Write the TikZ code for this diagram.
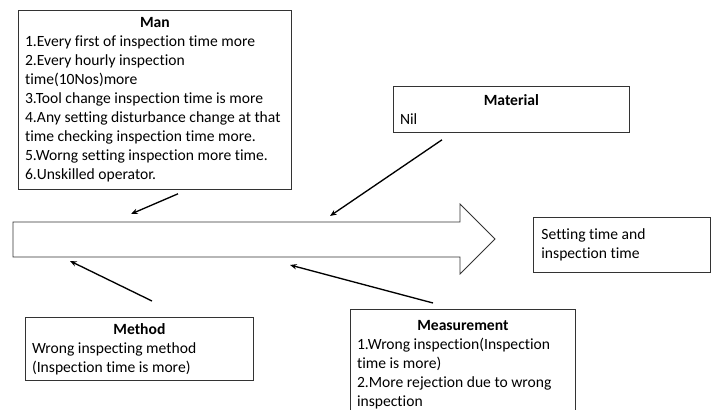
\documentclass[tikz,border=0pt]{standalone}
\usepackage{fontspec}
\setmainfont{Carlito}[Ligatures=NoCommon]
\usepackage{tikz}
\usetikzlibrary{arrows.meta}

\newcommand\boxhead[1]{\hbox to\hsize{\hfil\textbf{#1}\hfil}}

\tikzset{
	causebox/.style={draw=black!80,line width=0.6pt,rectangle,anchor=north west,
		align=flush left,inner xsep=5pt,inner ysep=0pt,
		font=\fontsize{11.7}{14.2}\selectfont},
	feed/.style={line width=1pt,-{Stealth[length=5pt,width=4pt]}}
}

\begin{document}
\begin{tikzpicture}[x=0.75pt,y=-0.75pt]
	\clip (0,0) rectangle (714,410);
	\fill[white] (0,0) rectangle (714,410);
\node[causebox,minimum width=273*0.75pt,minimum height=179*0.75pt,text width=273*0.75pt-10pt] (man) at (18,10) {\boxhead{Man}
1.Every first of inspection time more\\
2.Every hourly inspection\\
time(10Nos)more\\
3.Tool change inspection time is more\\
4.Any setting disturbance change at that\\
time checking inspection time more.\\
5.Worng setting inspection more time.\\
6.Unskilled operator.};
\node[causebox,minimum width=236*0.75pt,minimum height=46*0.75pt,text width=236*0.75pt-10pt] (material) at (393,86) {\boxhead{Material}
Nil};
\node[causebox,minimum width=228*0.75pt,minimum height=63*0.75pt,text width=228*0.75pt-10pt] (method) at (25,317) {\boxhead{Method}
Wrong inspecting method\\
(Inspection time is more)};
\node[causebox,minimum width=225*0.75pt,minimum height=110*0.75pt,text width=225*0.75pt-10pt] (measure) at (350,309) {\boxhead{Measurement}
1.Wrong inspection(Inspection\\
time is more)\\
2.More rejection due to wrong\\
inspection};
\node[causebox,minimum width=177*0.75pt,minimum height=55*0.75pt,text width=177*0.75pt-12pt,inner xsep=6pt] (effect) at (533,217) {Setting time and\\
inspection time\\[6pt]};

% main arrow
\draw[black!80,line width=0.6pt] (13,222) -- (460,222) -- (460,204) -- (495,239) -- (460,274) -- (460,257) -- (13,257) -- cycle;

\coordinate (manfoot) at ([shift={(160,4)}]man.south west);
\coordinate (manhit) at (131,214);
\coordinate (matfoot) at ([shift={(49,7)}]material.south west);
\coordinate (mathit) at (330,216);
\coordinate (methfoot) at ([shift={(127,-16)}]method.north west);
\coordinate (methhit) at (70,261);
\coordinate (measfoot) at ([shift={(83,-6)}]measure.north west);
\coordinate (meashit) at (290,265);

\draw[feed] (manfoot) -- (manhit);
\draw[feed] (matfoot) -- (mathit);
\draw[feed] (methfoot) -- (methhit);
\draw[feed] (measfoot) -- (meashit);

\end{tikzpicture}
\end{document}
